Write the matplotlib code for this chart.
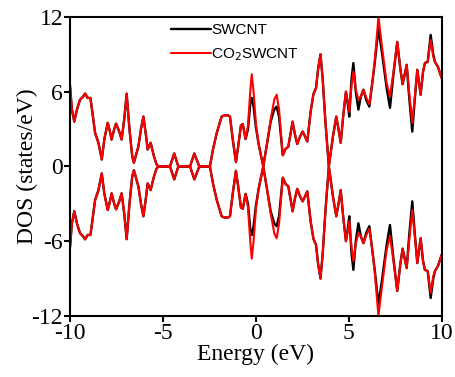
import numpy as np
import matplotlib
matplotlib.use('Agg')
import matplotlib.pyplot as plt

# Energy grid (eV)
energy = [
    -10.0, -9.9, -9.77, -9.62, -9.46, -9.3, -9.19, -9.05, -8.9, -8.8,
    -8.65, -8.47, -8.29, -8.15, -7.97, -7.85, -7.76, -7.62, -7.52, -7.35,
    -7.22, -7.08, -6.95, -6.8, -6.65, -6.56, -6.45, -6.32, -6.18, -6.05,
    -5.92, -5.82, -5.66, -5.48, -5.35, -5.25, -4.62, -4.39, -4.17, -3.54,
    -3.31, -3.04, -2.47, -2.3, -2.1, -1.84, -1.7, -1.5, -1.39, -1.24,
    -1.07, -0.95, -0.8, -0.7, -0.55, -0.42, -0.3, -0.22, -0.12, 0.0,
    0.15, 0.4, 0.6, 0.8, 1.0, 1.12, 1.25, 1.45, 1.6, 1.75,
    1.98, 2.1, 2.23, 2.38, 2.52, 2.65, 2.77, 2.95, 3.1, 3.24,
    3.35, 3.48, 3.6, 3.75, 3.93, 4.15, 4.33, 4.45, 4.57, 4.7,
    4.85, 4.95, 5.03, 5.15, 5.25, 5.38, 5.52, 5.65, 5.79, 5.95,
    6.11, 6.25, 6.4, 6.6, 6.8, 7.04, 7.22, 7.4, 7.61, 7.78,
    7.9, 8.12, 8.25, 8.42, 8.55, 8.69, 8.87, 9.0, 9.1, 9.25,
    9.41, 9.55, 9.64, 9.8, 10.0,
]

# CO2 adsorbed tube (red)
dos_co2 = [
    6.5, 4.6, 3.6, 4.6, 5.36, 5.6, 5.85, 5.5, 5.5, 4.4,
    2.7, 1.9, 0.56, 2.2, 3.5, 2.8, 2.16, 3.0, 3.44, 2.8,
    2.16, 3.8, 5.84, 3.0, 0.8, 0.3, 0.9, 1.6, 3.0, 4.0,
    2.6, 1.36, 1.9, 0.8, 0.2, 0.0, 0.0, 1.04, 0.0, 0.0,
    1.04, 0.0, 0.0, 1.4, 2.7, 4.0, 4.1, 4.1, 4.0, 2.16,
    0.35, 1.6, 3.3, 3.4, 2.2, 3.3, 6.0, 7.4, 6.0, 3.5,
    1.8, 0.0, 1.8, 3.8, 5.4, 5.76, 4.6, 0.9, 1.4, 1.6,
    3.6, 2.6, 1.8, 2.4, 2.8, 2.4, 2.0, 4.4, 5.8, 6.3,
    7.8, 9.0, 7.0, 3.5, 0.0, 2.4, 4.0, 3.0, 1.9, 4.0,
    6.0, 5.2, 4.4, 6.5, 7.6, 6.2, 5.36, 5.6, 6.16, 5.5,
    5.0, 6.5, 8.5, 12.0, 9.5, 6.7, 5.6, 7.5, 10.0, 7.8,
    6.6, 8.16, 6.0, 3.5, 5.5, 7.76, 5.76, 7.6, 8.3, 8.4,
    10.16, 8.8, 8.4, 8.0, 7.1,
]

# pristine tube (black)
dos_swcnt = [
    6.5, 4.6, 3.6, 4.6, 5.36, 5.6, 5.85, 5.5, 5.5, 4.4,
    2.7, 1.9, 0.56, 2.2, 3.5, 2.8, 2.16, 3.0, 3.44, 2.8,
    2.16, 3.8, 5.84, 3.0, 0.8, 0.3, 0.9, 1.6, 3.0, 4.0,
    2.6, 1.36, 1.9, 0.8, 0.2, 0.0, 0.0, 1.04, 0.0, 0.0,
    1.04, 0.0, 0.0, 1.4, 2.7, 4.0, 4.1, 4.1, 4.0, 2.16,
    0.35, 1.6, 3.3, 3.4, 2.2, 3.0, 5.0, 5.5, 4.8, 3.2,
    1.8, 0.0, 1.8, 3.6, 4.6, 4.8, 4.0, 0.9, 1.4, 1.6,
    3.6, 2.6, 1.8, 2.4, 2.8, 2.4, 2.0, 4.4, 5.8, 6.3,
    7.8, 9.0, 7.0, 3.5, 0.0, 2.4, 4.0, 3.0, 1.9, 4.0,
    6.0, 5.0, 4.0, 7.0, 8.3, 6.0, 4.56, 5.6, 6.16, 5.3,
    4.8, 6.5, 8.3, 11.1, 9.0, 6.3, 4.7, 7.3, 10.0, 7.8,
    6.6, 8.16, 5.6, 2.8, 5.3, 7.76, 5.76, 7.6, 8.3, 8.4,
    10.56, 9.0, 8.4, 8.0, 7.1,
]

xticks = [-10, -5, 0, 5, 10]
yticks = [-12, -6, 0, 6, 12]

plt.rcParams['axes.unicode_minus'] = False
serif = 'Liberation Serif'

fig = plt.figure(figsize=(4.56, 3.77), dpi=100)
ax = fig.add_axes([0.1535, 0.162, 0.815, 0.793])

e = np.array(energy)
black = np.array(dos_swcnt)
red = np.array(dos_co2)

# spin up / spin down mirrored
kw = dict(solid_joinstyle='round', solid_capstyle='round')
ax.plot(e, black, color='black', lw=1.7, label='SWCNT', **kw)
ax.plot(e, -black, color='black', lw=1.7, **kw)
ax.plot(e, red, color='#ff0000', lw=1.5, label='CO$_2$SWCNT', **kw)
ax.plot(e, -red, color='#ff0000', lw=1.5, **kw)

ax.set_xlim(-10, 10)
ax.set_ylim(-12, 12)
ax.set_xticks(xticks)
ax.set_yticks(yticks)
ax.tick_params(direction='out', length=4, width=1.5, labelsize=17, pad=1)
for lab in ax.get_xticklabels() + ax.get_yticklabels():
    lab.set_fontfamily(serif)
for sp in ax.spines.values():
    sp.set_linewidth(1.5)

ax.set_xlabel('Energy (eV)', fontsize=17, family=serif, labelpad=0)
ax.set_ylabel('DOS (states/eV)', fontsize=17, family=serif, labelpad=-5)

leg = ax.legend(loc='upper left', bbox_to_anchor=(0.236, 1.025), frameon=False,
                handlelength=2.6, handletextpad=0.0, labelspacing=0.6,
                prop={'family': 'Liberation Sans', 'size': 11})

fig.savefig('out.png', dpi=100)
